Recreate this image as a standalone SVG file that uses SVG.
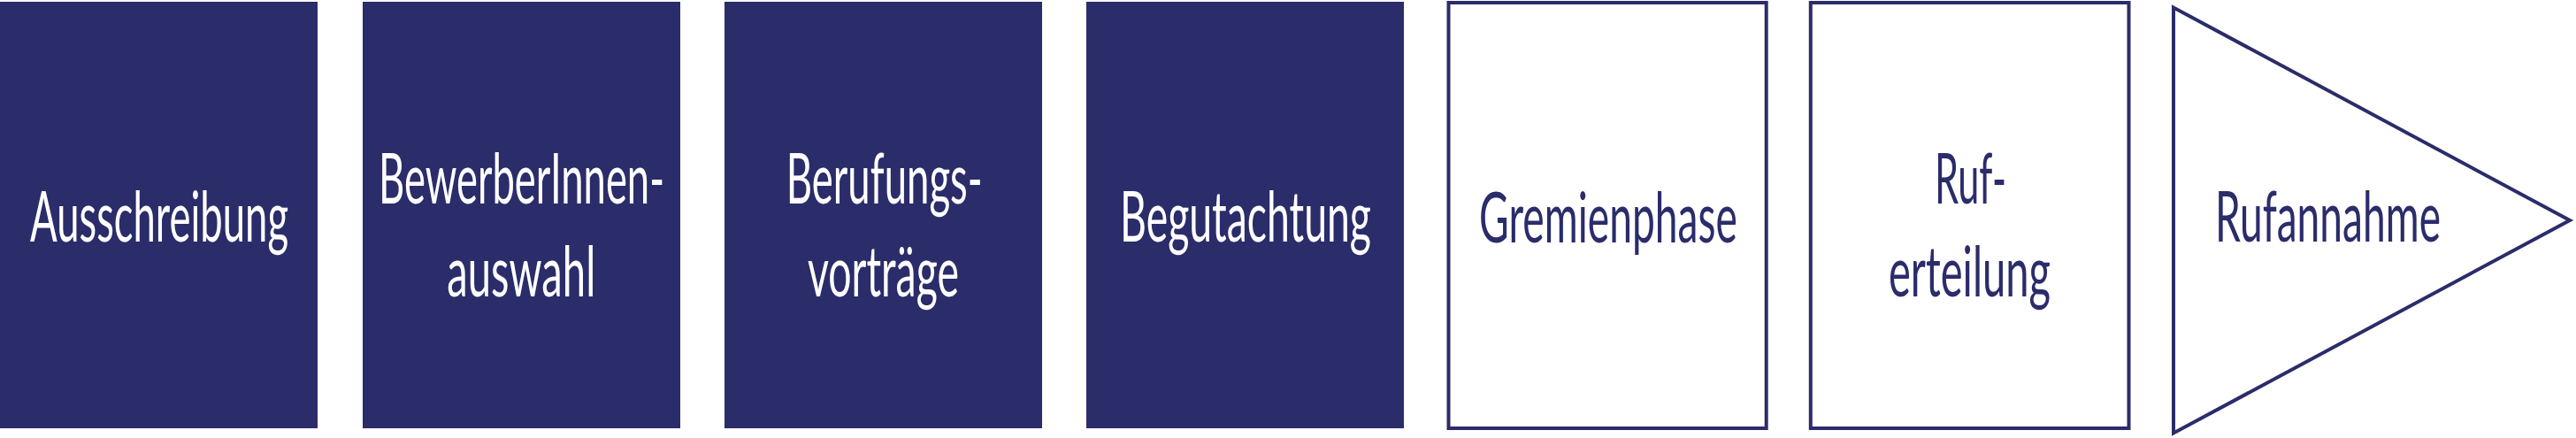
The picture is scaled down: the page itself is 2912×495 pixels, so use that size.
<svg xmlns="http://www.w3.org/2000/svg" width="2912" height="495" viewBox="0 0 2912 495">
<style>
.solid{fill:#2b2c6a;stroke:none}
.outline{fill:#ffffff;stroke:#2b2c6a;stroke-width:4}
text{font-family:Lato,"Open Sans","Liberation Sans",sans-serif;font-size:80px;text-anchor:middle}
.w{fill:#ffffff}
.n{fill:#2b2c6a}
</style>
<rect x="0" y="0" width="2912" height="495" fill="#ffffff"/>
<g id="ausschreibung">
<rect class="solid" x="0" y="2" width="359" height="482"/>
<text class="w" x="180" y="272.7" textLength="292" lengthAdjust="spacingAndGlyphs">Ausschreibung</text>
</g>
<g id="bewerberinnenauswahl">
<rect class="solid" x="410" y="2" width="359" height="482"/>
<text class="w" x="589.5" y="230" textLength="323" lengthAdjust="spacingAndGlyphs">BewerberInnen-</text>
<text class="w" x="589.3" y="335" textLength="168" lengthAdjust="spacingAndGlyphs">auswahl</text>
</g>
<g id="berufungsvortraege">
<rect class="solid" x="819" y="2" width="359" height="482"/>
<text class="w" x="999.7" y="230" textLength="222" lengthAdjust="spacingAndGlyphs">Berufungs-</text>
<text class="w" x="998.4" y="335" textLength="171" lengthAdjust="spacingAndGlyphs">vorträge</text>
</g>
<g id="begutachtung">
<rect class="solid" x="1228" y="2" width="359" height="482"/>
<text class="w" x="1408" y="272.7" textLength="284" lengthAdjust="spacingAndGlyphs">Begutachtung</text>
</g>
<g id="gremienphase">
<rect class="outline" x="1637.5" y="3" width="359.2" height="481"/>
<text class="n" x="1818" y="273.5" textLength="292" lengthAdjust="spacingAndGlyphs">Gremienphase</text>
</g>
<g id="ruferteilung">
<rect class="outline" x="2046.8" y="3" width="359.7" height="481"/>
<text class="n" x="2227.5" y="230" textLength="81" lengthAdjust="spacingAndGlyphs">Ruf-</text>
<text class="n" x="2226.5" y="334.5" textLength="183" lengthAdjust="spacingAndGlyphs">erteilung</text>
</g>
<g id="rufannahme">
<polygon class="outline" points="2457,8.5 2457,489.5 2905,249"/>
<text class="n" x="2631.5" y="273.3" textLength="255" lengthAdjust="spacingAndGlyphs">Rufannahme</text>
</g>
<g id="connectors"></g>
</svg>
